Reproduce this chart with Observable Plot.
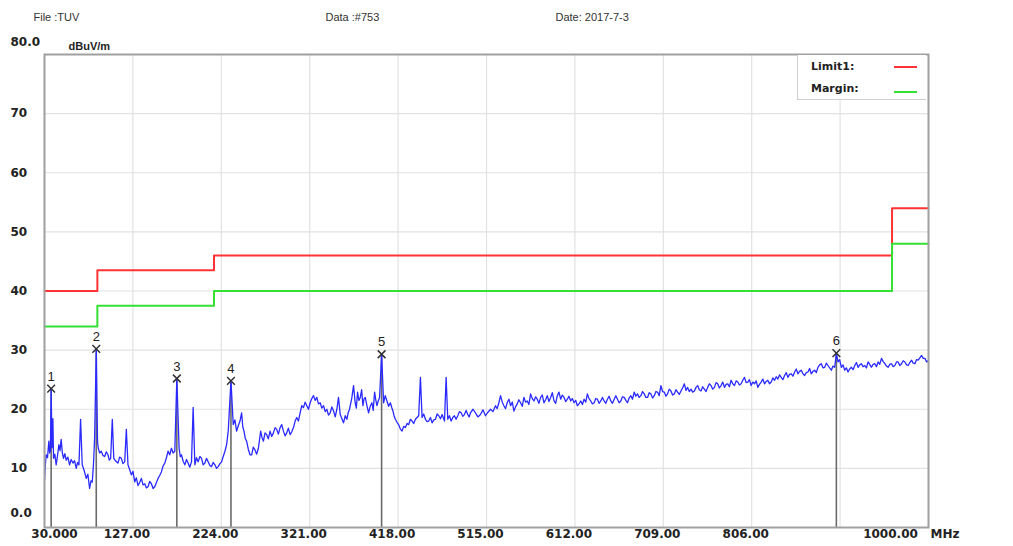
<!DOCTYPE html>
<html>
<head>
<meta charset="utf-8">
<script src="https://cdn.jsdelivr.net/npm/d3@7"></script>
<script src="https://cdn.jsdelivr.net/npm/@observablehq/plot@0.6"></script>
<style>
  body { margin: 0; background: #fff; }
  #wrap { position: relative; width: 1013px; height: 546px; font-family: "Liberation Sans", Arial, sans-serif; }
  #legend { position: absolute; left: 797px; top: 55px; width: 129px; height: 45px; background: #fff; border: 1px solid #cfcfcf; border-top: none; border-right: none; box-sizing: border-box; font-family: "DejaVu Sans", sans-serif; font-size: 11px; font-weight: bold; color: #222; }
  .lg { position: absolute; left: 13px; }
  .sw { position: absolute; left: 96px; width: 23px; height: 2px; }
</style>
</head>
<body>
<div id="wrap"></div>
<script>
// ---------- data ----------
const headerTexts = ["File :TUV", "Data :#753", "Date: 2017-7-3"];
const yUnit = "dBuV/m";
const xUnit = "MHz";
const gridX = [30, 127, 224, 321, 418, 515, 612, 709, 806, 903, 1000];
const xTickValues = [30, 127, 224, 321, 418, 515, 612, 709, 806, 1000];
const xTickLabels = ["30.000", "127.00", "224.00", "321.00", "418.00", "515.00", "612.00", "709.00", "806.00", "1000.00"];
const yTickValues = [0, 10, 20, 30, 40, 50, 60, 70, 80];
const yTickLabels = ["0.0", "10", "20", "30", "40", "50", "60", "70", "80.0"];

const limitFreq = [30, 88, 216, 960, 1000];
const limit1 = [40, 43.5, 46, 54, 54];
const margin = [34, 37.5, 40, 48, 48];

const markerNo = [1, 2, 3, 4, 5, 6];
const markerFreq = [37.3, 86.8, 175.2, 234.6, 399.9, 898.9];
const markerLevel = [23.5, 30.2, 25.2, 24.8, 29.3, 29.5];

const traceFreq = [
  30, 30.9, 31.8, 33.3, 34.8, 35.7, 36.5, 37.3, 38.2, 39.2, 39.9, 41.3, 42.8, 44.3, 45.8, 47.0, 48.3, 49.6, 50.9, 52.3,
  53.8, 55.6, 57.5, 59.3, 61.2, 63.0, 64.8, 66.3, 67.8, 69.6, 71.4, 73.6, 75.8, 77.6, 79.5, 81.0, 82.4, 83.7, 85, 86.8,
  88.2, 89,
  90.6, 92.3, 94.1, 96, 97.8, 99.7, 101.1, 102.6, 104.4, 106, 108.3, 110.6, 112.4, 114.3, 116.1, 118, 119.8, 121.6, 123.4, 125.3,
  127.1, 129, 130.8, 132.6, 134.4, 136.3, 138.1, 140, 141.8, 143.6, 145.4, 147.3, 149.1, 151, 152.8, 154.6, 156.4, 158.3, 160.1, 162,
  163.8, 165.6, 167.4, 169.3, 171.1, 173, 175.2,
  177.7, 179, 180.3, 182.1, 184, 185.8, 187.6, 189.4, 191.3, 193.1, 195, 196.8, 198.6, 200.5, 202.3, 204.1, 206, 207.8, 209.6, 211.5,
  213.3, 215.1, 217, 218.8, 220.6, 222.5, 224.3, 226.1, 228, 229.8, 231.6, 234.6, 237.1, 238.9, 240.8, 242.6, 244.5, 246.3, 247.6, 248.9,
  250.4, 251.8, 253.7, 255.5,
  257.3, 259.1, 261, 262.8, 264.7, 265.9, 267.2, 268.7, 270.2, 272, 273.8, 275.6, 277.5, 279.3, 281.2, 283, 284.8, 286.6, 288.5, 290.3,
  292.2, 294, 295.8, 297.6, 299.5, 301.3, 303.2, 305, 306.8, 308.6, 310.5, 312.3, 314.2, 316, 317.8, 319.6, 321.5, 323.3, 325.2, 327,
  328.8, 330.6, 332.5, 334.3, 336.2, 338, 339.8, 341.6, 343.5, 345.3, 347.2, 349, 350.8, 352.6, 354.5, 356.3, 358.1, 360, 361.8, 363.2,
  364.7, 366, 367.3, 369.1, 370.9, 372.2, 373.5, 375, 376.5, 378, 379.4, 380.7, 382, 383.8, 385.6, 387.4, 389.3, 390.7, 392.2, 393.5,
  394.8, 396.2, 397.7, 399.9,
  402.1, 403.9, 405.8, 407.6, 409.5, 411, 412.4, 413.7, 415, 416.8, 418.6, 420.4, 422.3, 424.1, 426, 427.8, 429.6, 431.5, 433.3, 435.1,
  437, 438.8, 440.6, 442.5, 444.3, 446.1, 448, 449.8, 451.6, 453.5, 455.3, 457.1, 459, 460.8, 462.6, 464.5, 466.3, 468.9, 470.7, 472.5,
  474.3, 476.2, 478, 479.8, 481.6, 483.5, 485.3, 487.2, 489, 490.8, 492.6, 494.5, 496, 497.4,
  500.2, 502.9, 505.6, 508.4, 511.1, 513.9, 516.6, 519.4, 522.1, 524.9, 526.7, 528.6, 530.4, 532.3, 534.1, 535.9, 537.7, 539.6, 541.4, 543.3,
  545.1, 546.9, 548.7, 550.5, 552.4, 554.2, 556.1, 557.9, 559.7, 561.5, 563.4, 565.2, 567.1, 568.9, 570.7, 572.5, 574.4, 576.2, 578.1, 579.9,
  581.7, 583.5, 585.4, 587.2, 589.1, 590.9, 592.7, 594.5, 596.4, 598.2, 600.1, 601.9, 603.7, 605.5, 607.4, 609.2, 611.1, 612.9, 614.7, 616.5,
  618.4, 620.2, 622.1, 623.9, 625.7, 627.5, 629.4, 631.2, 633.1, 634.9, 636.7, 638.5, 640.4, 642.2, 644.1, 645.9, 647.7, 649.5, 651.4, 653.2,
  655.1, 656.9, 658.7, 660.5, 662.4, 664.2, 666.1, 667.9, 669.7, 671.5, 673.4, 675.2, 677.1, 678.9, 680.7, 682.5, 684.4, 686.2, 688.1, 689.9,
  691.7, 693.5, 695.4, 697.2, 699.1,
  700.9, 702.7, 704.5, 706.4, 708.2, 710.1, 711.9, 713.7, 715.5, 717.4, 719.2, 721.1, 722.9, 724.7, 726.5, 728.4, 730.2, 732.1, 733.9, 735.7,
  737.5, 739.4, 741.2, 743.1, 744.9, 746.7, 748.5, 750.4, 752.2, 754.1, 755.9, 757.7, 759.5, 761.4, 763.2, 765.1, 766.9, 768.7, 770.5, 772.4,
  774.2, 776.1, 777.9, 779.7, 781.5, 783.4, 785.2, 787.1, 788.9, 790.7, 792.5, 794.4, 796.2, 798.1, 799.9, 801.7, 803.5, 805.4, 807.2, 809.1,
  810.9, 812.7, 814.5, 816.4, 818.2, 820.1, 821.9, 823.7, 825.5, 827.4, 829.2, 831.1, 832.9, 834.7, 836.5, 838.4, 840.2, 842.1, 843.9, 845.7,
  847.5, 849.4, 851.2, 853.1, 854.9, 856.7, 858.5, 860.4, 862.2, 864.1, 865.9, 867.7, 869.5, 871.4, 873.2, 875.1, 876.9, 878.7, 880.5, 882.4,
  884.2, 886.1, 887.9, 889.7, 891.5, 893.4, 895.2, 897.1, 898.9,
  900.7, 902.5, 904.4, 906.2, 908.1, 909.9, 911.7, 913.5, 915.4, 917.2, 919.1, 920.9, 922.7, 924.5, 926.4, 928.2, 930.1, 931.9, 933.7, 935.5,
  937.4, 939.2, 941.1, 942.9, 944.7, 946.5, 948.4, 950.2, 952.1, 953.9, 955.7, 957.5, 959.4, 961.2, 963.1, 964.9, 966.7, 968.5, 970.4, 972.2,
  974.1, 975.9, 977.7, 979.5, 981.4, 983.2, 985.1, 986.9, 988.7, 990.5, 992.4, 994.2, 996.1, 998, 1000
];
const traceLevel = [
  8.0, 10.5, 12.3, 11.8, 14.6, 12.6, 13.0, 23.5, 13.5, 18.4, 11.7, 12.4, 10.6, 12.2, 14.0, 13.0, 14.9, 12.6, 11.7, 12.5,
  11.4, 11.9, 10.6, 11.5, 10.9, 11.3, 10.0, 11.0, 10.6, 18.3, 10.6, 9.6, 8.3, 9.0, 6.6, 7.9, 7.7, 10.5, 15.1, 30.2,
  14.5, 13.4,
  12.6, 12.9, 12.2, 12.0, 12.8, 12.3, 11.4, 11.7, 18.3, 11.7, 11.2, 10.9, 11.9, 11.7, 10.8, 11.1, 16.6, 10.6, 9.8, 8.9,
  9.5, 7.7, 8.4, 7.1, 7.6, 8.3, 7.2, 7.4, 6.7, 6.9, 7.8, 7.4, 6.6, 6.9, 7.6, 8.3, 8.8, 9.4, 10.4, 10.9,
  11.8, 12.9, 12.3, 13.4, 12.6, 12.9, 25.2,
  13.4, 12.0, 12.3, 11.2, 10.6, 11.5, 10.9, 10.2, 11.1, 20.3, 10.6, 11.8, 11.1, 12.0, 11.7, 10.6, 10.9, 11.7, 11.1, 10.5,
  10.3, 11.0, 10.6, 10.0, 10.3, 10.8, 11.1, 12.0, 12.9, 14.0, 16.3, 24.8, 17.4, 18.2, 16.3, 17.2, 18.0, 19.4, 17.0, 16.3,
  15.0, 14.6, 13.2, 12.3,
  12.3, 13.6, 13.1, 12.4, 13.4, 14.8, 16.3, 15.2, 14.6, 16.0, 15.7, 15.0, 16.3, 15.4, 16.0, 16.9, 16.6, 15.8, 16.9, 17.4,
  16.3, 15.5, 16.0, 16.8, 15.7, 16.2, 16.9, 18.0, 18.6, 18.0, 19.4, 20.6, 20.3, 21.2, 20.6, 20.0, 21.1, 21.8, 22.3, 21.5,
  22.0, 20.9, 21.1, 20.2, 20.6, 19.6, 20.0, 19.0, 19.4, 20.4, 19.7, 18.7, 20.0, 22.0, 19.1, 18.4, 17.7, 18.9, 18.3, 19.4,
  20.0, 21.0, 22.0, 24.0, 21.1, 20.2, 22.9, 21.5, 22.0, 23.3, 20.6, 21.8, 22.0, 20.6, 19.4, 20.5, 21.1, 19.8, 22.9, 21.6,
  20.6, 21.4, 22.0, 29.3,
  21.1, 22.3, 21.4, 20.5, 21.1, 20.3, 19.7, 18.8, 18.3, 17.8, 17.4, 16.7, 16.3, 17.1, 16.9, 17.6, 17.4, 18.3, 18.0, 17.6,
  18.3, 18.6, 18.9, 25.4, 18.6, 19.2, 18.3, 17.9, 18.0, 18.6, 17.7, 18.2, 18.3, 19.2, 18.9, 18.4, 19.1, 18.0, 25.4, 18.3,
  18.9, 18.0, 18.6, 18.9, 18.3, 18.9, 19.6, 19.4, 18.8, 19.1, 19.8, 19.1, 18.7, 19.4,
  20.0, 19.4, 18.7, 19.1, 19.9, 18.9, 19.5, 20.0, 19.6, 20.6, 20.1, 21.1, 22.3, 21.2, 20.6, 20.1, 21.1, 21.7, 20.6, 21.2,
  19.7, 20.4, 20.9, 21.6, 21.1, 20.5, 22.0, 21.2, 21.4, 20.8, 22.6, 21.8, 21.4, 22.1, 21.7, 21.0, 22.0, 22.4, 21.1, 21.6,
  22.3, 21.3, 22.0, 22.8, 21.4, 21.0, 22.3, 22.9, 21.7, 22.4, 22.0, 21.3, 21.7, 22.2, 21.4, 21.8, 21.1, 21.5, 20.6, 20.9,
  21.4, 20.8, 21.7, 21.2, 22.6, 21.8, 21.4, 20.9, 21.1, 21.8, 21.7, 21.0, 21.4, 22.0, 21.4, 21.0, 21.7, 22.2, 21.4, 21.0,
  21.7, 22.3, 21.7, 21.1, 21.4, 22.1, 22.0, 21.5, 21.1, 21.9, 22.3, 21.7, 22.9, 22.2, 22.6, 22.0, 22.3, 23.0, 22.6, 22.0,
  22.0, 22.8, 22.6, 21.9, 22.3,
  23.0, 22.9, 22.3, 24.0, 23.0, 22.9, 22.2, 22.6, 23.4, 23.1, 22.4, 22.6, 23.3, 22.9, 22.5, 23.1, 23.6, 24.3, 23.2, 23.7,
  23.0, 23.4, 22.9, 23.1, 23.7, 24.0, 23.3, 23.1, 23.8, 23.4, 23.0, 23.7, 24.3, 24.0, 23.4, 23.7, 24.5, 24.3, 23.6, 24.0,
  24.6, 23.7, 24.2, 24.3, 23.8, 24.9, 24.3, 24.0, 24.8, 24.6, 24.1, 24.3, 24.9, 25.4, 24.5, 24.6, 25.0, 24.0, 24.6, 24.3,
  24.8, 23.7, 24.2, 24.6, 25.1, 24.3, 24.7, 24.9, 24.3, 24.6, 25.3, 24.9, 25.5, 25.1, 25.8, 25.4, 25.0, 25.7, 26.2, 25.4,
  25.9, 26.0, 25.6, 26.3, 26.8, 26.0, 26.4, 26.6, 26.0, 25.7, 26.2, 26.3, 26.9, 26.0, 26.4, 26.6, 26.2, 27.1, 27.5, 27.7,
  27.0, 27.1, 27.8, 27.4, 27.0, 26.6, 27.3, 27.1, 29.5,
  28.0, 28.4, 27.1, 27.5, 26.6, 27.0, 26.3, 26.8, 27.1, 26.7, 27.4, 27.9, 27.1, 27.5, 27.7, 27.2, 27.4, 27.0, 28.0, 27.6,
  27.1, 27.6, 27.7, 27.2, 28.0, 27.6, 28.6, 28.1, 27.7, 27.3, 27.1, 27.6, 27.7, 27.2, 27.4, 28.0, 28.0, 27.4, 27.7, 28.2,
  28.0, 27.5, 27.4, 27.9, 28.3, 27.8, 27.7, 28.4, 28.3, 28.7, 29.1, 28.6, 28.6, 28.0, 28.3
];

// ---------- build tables ----------
const trace = traceFreq.map((f, i) => ({f, v: traceLevel[i]}));
const limitRows = limitFreq.map((f, i) => ({f, limit: limit1[i], margin: margin[i]}));
const markers = markerNo.map((n, i) => ({n, f: markerFreq[i], v: markerLevel[i]}));
const xLabels = xTickValues.map((v, i) => ({v, t: xTickLabels[i]}));
const yLabels = yTickValues.map((v, i) => ({v, t: yTickLabels[i]}));

const font = "Liberation Sans, Arial, sans-serif";
const tickFont = "DejaVu Sans, sans-serif";
const last = xLabels.length - 1;
const tickStyle = {fill: "#222", fontWeight: "bold", fontFamily: tickFont, fontSize: 12};

const chart = Plot.plot({
  width: 1013,
  height: 546,
  marginLeft: 44,
  marginRight: 85,
  marginTop: 54,
  marginBottom: 19,
  style: {fontFamily: font, fontSize: "11px", background: "#fff", overflow: "visible"},
  x: {domain: [30, 1000], axis: null},
  y: {domain: [0, 80], axis: null},
  marks: [
    Plot.ruleX(gridX, {stroke: "#e2e2e2", strokeWidth: 1.2}),
    Plot.ruleY(yTickValues, {stroke: "#e2e2e2", strokeWidth: 1.2}),
    Plot.line(limitRows, {x: "f", y: "limit", curve: "step-after", stroke: "#ff3333", strokeWidth: 2}),
    Plot.line(limitRows, {x: "f", y: "margin", curve: "step-after", stroke: "#33e033", strokeWidth: 2}),
    Plot.ruleX(markers, {x: "f", y1: 0, y2: "v", stroke: "#6a6a6a", strokeWidth: 1.6}),
    Plot.line(trace, {x: "f", y: "v", stroke: "#2a2aff", strokeWidth: 1.3}),
    Plot.dot(markers, {x: "f", y: "v", symbol: "times", r: 3.6, stroke: "#333", strokeWidth: 1.5}),
    Plot.text(markers, {x: "f", y: "v", text: "n", dy: -12, fill: "#222", fontSize: 13}),
    Plot.frame({stroke: "#a0a0a0", strokeWidth: 2}),
    // y tick labels
    Plot.text(yLabels.filter(d => d.v > 0 && d.v < 80), {y: "v", text: "t", frameAnchor: "left", dx: -34, textAnchor: "start", ...tickStyle}),
    Plot.text(yLabels.filter(d => d.v === 80), {y: "v", text: "t", frameAnchor: "left", dx: -34, dy: -12, textAnchor: "start", ...tickStyle}),
    Plot.text(yLabels.filter(d => d.v === 0), {y: "v", text: "t", frameAnchor: "left", dx: -34, dy: -14, textAnchor: "start", ...tickStyle}),
    // x tick labels
    Plot.text(xLabels.slice(1, last), {x: "v", text: "t", frameAnchor: "bottom", dx: -6, dy: 10, ...tickStyle}),
    Plot.text(xLabels.slice(0, 1), {x: "v", text: "t", frameAnchor: "bottom", dx: 10, dy: 10, ...tickStyle}),
    Plot.text(xLabels.slice(last), {x: "v", text: "t", frameAnchor: "bottom", dx: -38, dy: 10, ...tickStyle}),
    Plot.text([xUnit], {frameAnchor: "bottom-right", dx: 2, dy: 10, textAnchor: "start", ...tickStyle}),
    Plot.text([yUnit], {frameAnchor: "top-left", dx: 24, dy: -12, textAnchor: "start", fill: "#222", fontWeight: "bold"}),
    // header
    Plot.text([headerTexts[0]], {frameAnchor: "top-left", dx: -11, dy: -41, textAnchor: "start", fill: "#333"}),
    Plot.text([headerTexts[1]], {frameAnchor: "top-left", dx: 281, dy: -41, textAnchor: "start", fill: "#333"}),
    Plot.text([headerTexts[2]], {frameAnchor: "top-left", dx: 511, dy: -41, textAnchor: "start", fill: "#333"})
  ]
});

const wrap = document.getElementById("wrap");
wrap.appendChild(chart);
const legend = document.createElement("div");
legend.id = "legend";
legend.innerHTML =
  '<span class="lg" style="top:5px">Limit1:</span><span class="sw" style="top:11px;background:#ff3333"></span>' +
  '<span class="lg" style="top:27px">Margin:</span><span class="sw" style="top:36px;background:#33e033"></span>';
wrap.appendChild(legend);
</script>
</body>
</html>
